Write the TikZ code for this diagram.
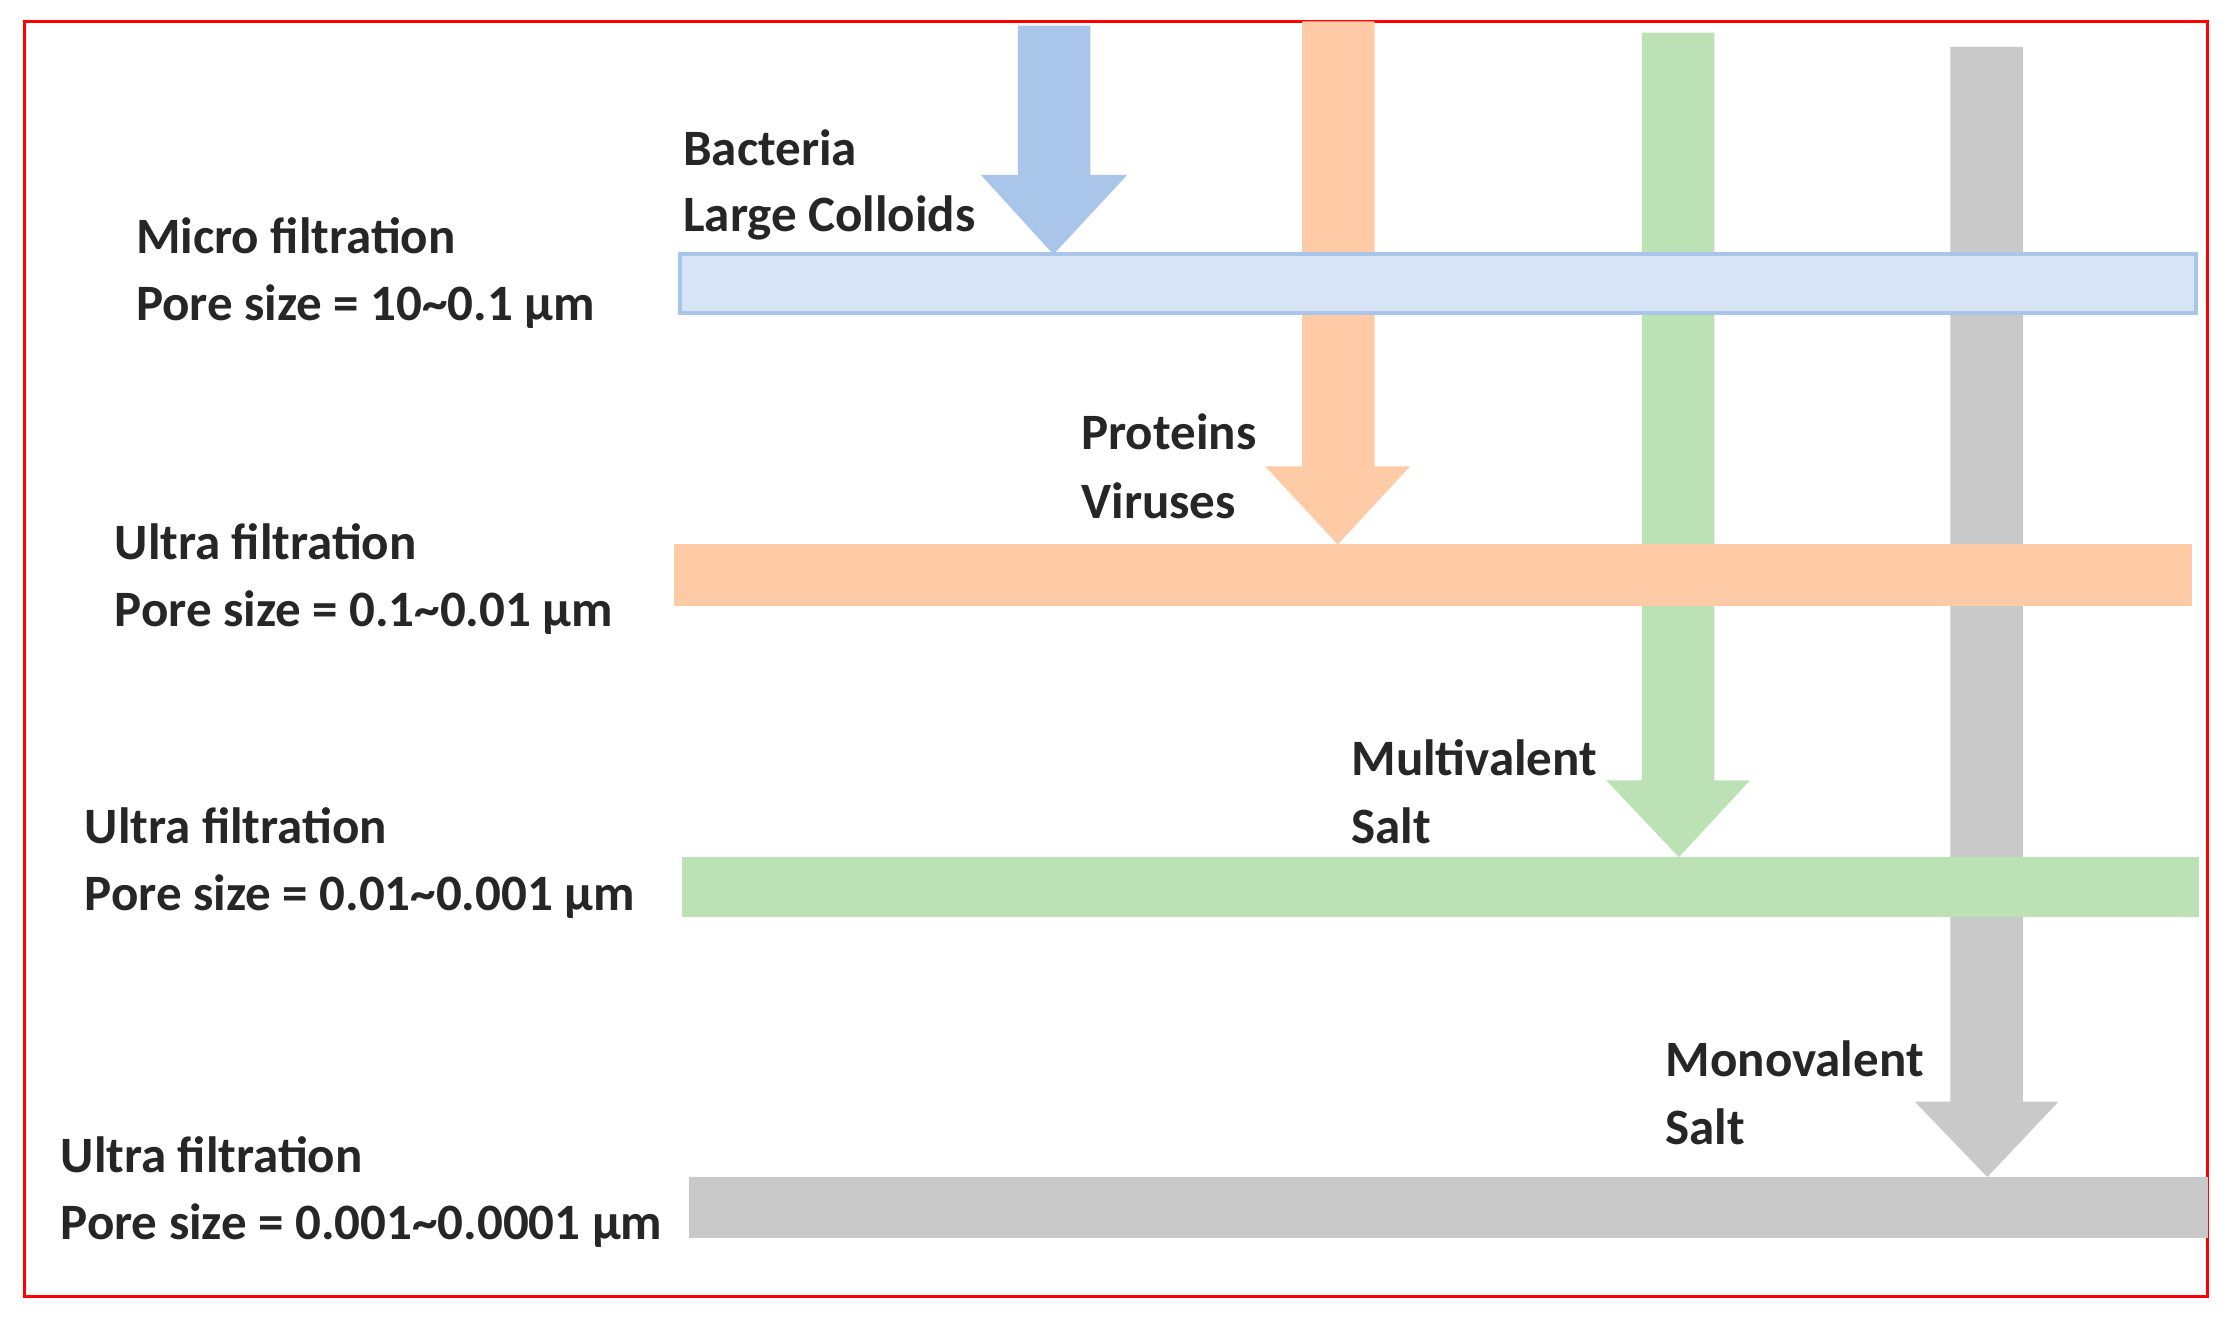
\documentclass[tikz,border=0pt]{standalone}
\usepackage{fontspec}
\setmainfont{Carlito}
\begin{document}
\begin{tikzpicture}[x=0.01cm,y=-0.01cm,
  lbl/.style={anchor=west,inner sep=0pt,font=\bfseries\fontsize{10.2}{12}\selectfont,text=black!85}]
\useasboundingbox (0,0) rectangle (1568,928);
\fill[white] (0,0) rectangle (1568,928);
\draw[red,line width=0.6pt] (17,15) rectangle (1553,912);
\definecolor{bl}{HTML}{A9C6EA}
\definecolor{blf}{HTML}{D7E5F6}
\definecolor{orf}{HTML}{FFCBA6}
\definecolor{grf}{HTML}{BBE1B4}
\definecolor{gyf}{HTML}{C9C9C9}
% arrows
\fill[gyf] (1372,33) -- (1423,33) -- (1423,775) -- (1448,775) -- (1398,828) -- (1347,775) -- (1372,775) -- cycle;
\fill[grf] (1155,23) -- (1206,23) -- (1206,549) -- (1231,549) -- (1181,603) -- (1130,549) -- (1155,549) -- cycle;
\fill[orf] (916,15) -- (967,15) -- (967,328) -- (992,328) -- (941,383) -- (890,328) -- (916,328) -- cycle;
\fill[bl] (716,18) -- (767,18) -- (767,123) -- (793,123) -- (741,179) -- (690,123) -- (716,123) -- cycle;
% membranes
\fill[gyf] (485,828) rectangle (1553,871);
\fill[grf] (480,603) rectangle (1547,645);
\fill[orf] (474,383) rectangle (1542,426);
\filldraw[fill=blf,draw=bl,line width=0.8pt] (478,179) rectangle (1545,220);
% labels
\node[lbl] (b1) at (480,104) {Bacteria};
\node[lbl] (b2) at (480,153) {Large Colloids};
\node[lbl] (m1) at (95,166) {Micro filtration};
\node[lbl] (m2) at (95,216) {Pore size = 10\textasciitilde0.1 µm};
\node[lbl] (p1) at (760,304) {Proteins};
\node[lbl] (p2) at (760,352) {Viruses};
\node[lbl] (u1) at (80,381) {Ultra filtration};
\node[lbl] (u2) at (80,431) {Pore size = 0.1\textasciitilde0.01 µm};
\node[lbl] (v1) at (950,533) {Multivalent};
\node[lbl] (v2) at (950,581) {Salt};
\node[lbl] (n1) at (59,581) {Ultra filtration};
\node[lbl] (n2) at (59,631) {Pore size = 0.01\textasciitilde0.001 µm};
\node[lbl] (o1) at (1171,745) {Monovalent};
\node[lbl] (o2) at (1171,793) {Salt};
\node[lbl] (r1) at (42,812) {Ultra filtration};
\node[lbl] (r2) at (42,862) {Pore size = 0.001\textasciitilde0.0001 µm};
\end{tikzpicture}
\end{document}
